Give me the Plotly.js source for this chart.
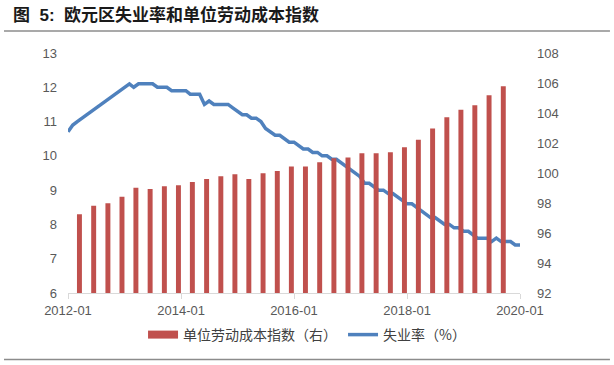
<!DOCTYPE html>
<html><head><meta charset="utf-8">
<script src="https://cdn.plot.ly/plotly-3.0.1.min.js"></script>
<style>html,body{margin:0;padding:0;background:#fff}#chart{width:614px;height:365px}</style>
</head><body><div id="chart"></div>
<script>
// Unemployment rate (%), monthly 2012-01 .. 2020-01
const unemploymentRate = [
  10.7, 10.9, 11.0, 11.1, 11.2, 11.3, 11.4, 11.5, 11.6, 11.7, 11.8, 11.9,
  12.0, 12.1, 12.0, 12.1, 12.1, 12.1, 12.1, 12.0, 12.0, 12.0, 11.9, 11.9,
  11.9, 11.9, 11.8, 11.8, 11.8, 11.5, 11.6, 11.5, 11.5, 11.5, 11.5, 11.4,
  11.3, 11.2, 11.2, 11.1, 11.1, 11.0, 10.8, 10.7, 10.6, 10.6, 10.5, 10.4,
  10.4, 10.3, 10.2, 10.2, 10.1, 10.1, 10.0, 10.0, 9.9, 9.9, 9.8, 9.7,
  9.6, 9.5, 9.4, 9.2, 9.2, 9.1, 9.0, 9.0, 8.9, 8.9, 8.8, 8.7,
  8.6, 8.6, 8.5, 8.4, 8.3, 8.2, 8.2, 8.1, 8.0, 8.0, 7.9, 7.9,
  7.8, 7.8, 7.7, 7.6, 7.6, 7.6, 7.5, 7.6, 7.5, 7.5, 7.5, 7.4,
  7.4
];
// Unit labour cost index (right axis), quarterly 2012Q1 .. 2019Q3
const laborCostIndex = [
  97.25, 97.82, 97.98, 98.42,
  99.02, 98.93, 99.11, 99.18,
  99.40, 99.60, 99.78, 99.91,
  99.60, 99.98, 100.13, 100.44,
  100.44, 100.71, 100.98, 101.04,
  101.31, 101.31, 101.38, 101.71,
  102.22, 102.96, 103.71, 104.22,
  104.51, 105.18, 105.78
];
const monthStart = [2012, 1];
const quarterStart = [2012, 1];
const xTickVals = ['2012-01-01', '2014-01-01', '2016-01-01', '2018-01-01', '2020-01-01'];
const xTickText = ['2012-01', '2014-01', '2016-01', '2018-01', '2020-01'];
const seriesNames = ['单位劳动成本指数（右）', '失业率（%）'];
const chartTitle = '图\u00A0\u00A05:\u00A0\u00A0欧元区失业率和单位劳动成本指数';

const pad = n => (n < 10 ? '0' : '') + n;
const months = unemploymentRate.map((_, i) => {
  const t = (monthStart[0]) * 12 + (monthStart[1] - 1) + i;
  return Math.floor(t / 12) + '-' + pad(t % 12 + 1) + '-01';
});
const quarters = laborCostIndex.map((_, i) => {
  const q = (quarterStart[0]) * 4 + (quarterStart[1] - 1) + i;
  return Math.floor(q / 4) + '-' + pad((q % 4) * 3 + 3) + '-15';
});

const RED = '#C0504D', BLUE = '#4F81BD';
const tickFont = {family: 'Liberation Sans, Arial, sans-serif', size: 13, color: '#595959'};

const traces = [
  {type: 'bar', x: quarters, y: laborCostIndex, yaxis: 'y2', marker: {color: RED},
   width: 32 * 86400000, showlegend: false, hoverinfo: 'skip'},
  {type: 'scatter', mode: 'lines', x: [null], y: [null], yaxis: 'y2', name: seriesNames[0],
   line: {color: RED, width: 8}, hoverinfo: 'skip'},
  {type: 'scatter', mode: 'lines', x: months, y: unemploymentRate, name: seriesNames[1],
   line: {color: BLUE, width: 3.5}, hoverinfo: 'skip'}
];

const layout = {
  width: 614, height: 365,
  margin: {l: 68, r: 94, t: 53, b: 72},
  paper_bgcolor: '#fff', plot_bgcolor: '#fff',
  title: {text: chartTitle, xref: 'container', yref: 'container',
          x: 13 / 614, xanchor: 'left', y: 1 - 15 / 365, yanchor: 'middle',
          font: {family: 'Liberation Sans, Noto Sans CJK SC, sans-serif', size: 17, color: '#1a1a1a', weight: 'bold'}},
  xaxis: {type: 'date', range: ['2012-01-01', '2020-01-01'], tickvals: xTickVals, ticktext: xTickText,
          showgrid: false, zeroline: false, showline: true, linecolor: '#D9D9D9', linewidth: 1,
          ticks: 'outside', ticklen: 5, tickcolor: '#D9D9D9', tickfont: tickFont},
  yaxis: {range: [6, 13], dtick: 1, showgrid: false, zeroline: false, showline: false,
          tickfont: tickFont, ticklabelstandoff: 10},
  yaxis2: {range: [92, 108], dtick: 2, overlaying: 'y', side: 'right', showgrid: false, zeroline: false,
           showline: false, tickfont: tickFont, ticklabelstandoff: 16},
  legend: {orientation: 'h', x: 0.166, xanchor: 'left', y: -0.175, yanchor: 'middle',
           entrywidth: 155, font: {family: 'Noto Sans CJK SC, sans-serif', size: 14, color: '#404040'},
           bgcolor: 'rgba(0,0,0,0)'},
  shapes: [
    {type: 'line', xref: 'paper', yref: 'paper', x0: -0.1416, x1: 1.199, y0: 1.0915, y1: 1.0915,
     line: {color: '#8c8c8c', width: 1.5}},
    {type: 'line', xref: 'paper', yref: 'paper', x0: -0.1416, x1: 1.199, y0: -0.2776, y1: -0.2776,
     line: {color: '#8c8c8c', width: 1.5}}
  ],
  showlegend: true
};
Plotly.newPlot('chart', traces, layout, {displayModeBar: false, staticPlot: true});
</script></body></html>
